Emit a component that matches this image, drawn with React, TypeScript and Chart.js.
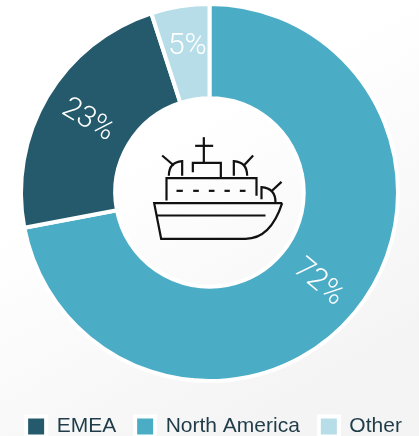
import React, { useEffect, useRef } from "react";
import { Chart, registerables } from "chart.js";

Chart.register(...registerables);

const categories = ["North America", "EMEA", "Other"];
const shares = [72, 23, 5];
const colors = ["#4bacc6", "#245a6b", "#b7dde8"];

// Ship icon, expressed in 3x-zoom units relative to an origin at the doughnut centre
const Z = (v: number) => v / 3;
const OX = -79;
const OY = -72;

function drawShip(ctx: CanvasRenderingContext2D, cx: number, cy: number) {
  ctx.save();
  ctx.translate(cx + OX, cy + OY);
  ctx.strokeStyle = "#111";
  ctx.lineWidth = 2.2;
  ctx.lineCap = "butt";
  ctx.lineJoin = "miter";
  const poly = (pts: number[][]) => {
    ctx.beginPath();
    pts.forEach((p, i) => (i ? ctx.lineTo(Z(p[0]), Z(p[1])) : ctx.moveTo(Z(p[0]), Z(p[1]))));
    ctx.stroke();
  };
  poly([[220, 50], [220, 125]]);
  poly([[194, 76], [248, 76]]);
  poly([[187, 155], [187, 127], [271, 127], [271, 172]]);
  poly([[108, 240], [108, 173], [378, 173], [378, 226]]);
  [[138, 157], [188, 205], [235, 252], [282, 298], [328, 345]].forEach(([a, b]) => poly([[a, 211], [b, 211]]));
  // left radar
  ctx.beginPath();
  ctx.moveTo(Z(155), Z(166));
  ctx.lineTo(Z(155), Z(122));
  ctx.quadraticCurveTo(Z(115), Z(125), Z(115), Z(166));
  ctx.stroke();
  poly([[95, 105], [130, 135]]);
  // right radar
  ctx.beginPath();
  ctx.moveTo(Z(310), Z(166));
  ctx.lineTo(Z(310), Z(122));
  ctx.quadraticCurveTo(Z(350), Z(125), Z(350), Z(166));
  ctx.stroke();
  poly([[368, 105], [340, 135]]);
  // stern radar
  ctx.beginPath();
  ctx.moveTo(Z(393), Z(236));
  ctx.lineTo(Z(393), Z(200));
  ctx.quadraticCurveTo(Z(435), Z(203), Z(435), Z(246));
  ctx.stroke();
  poly([[453, 184], [422, 213]]);
  // hull
  ctx.beginPath();
  ctx.moveTo(Z(455), Z(248));
  ctx.lineTo(Z(71), Z(248));
  ctx.lineTo(Z(92), Z(355));
  ctx.lineTo(Z(345), Z(355));
  ctx.quadraticCurveTo(Z(420), Z(355), Z(455), Z(248));
  ctx.stroke();
  poly([[78, 285], [405, 285]]);
  ctx.restore();
}

const overlay = {
  id: "overlay",
  afterLayout(chart: any) {
    chart.legend.top += 14;
    chart.legend.bottom += 14;
    chart.legend.left += 4.5;
    chart.legend.right += 4.5;
  },
  afterDatasetsDraw(chart: any) {
    const ctx = chart.ctx as CanvasRenderingContext2D;
    const arcs = chart.getDatasetMeta(0).data;
    arcs.forEach((arc: any, i: number) => {
      const p = arc.getCenterPoint();
      // the arc's mid angle, measured from 3 o'clock, wrapped so that the text stays upright
      let rot = (arc.startAngle + arc.endAngle) / 2;
      while (rot > Math.PI / 2) rot -= Math.PI;
      while (rot < -Math.PI / 2) rot += Math.PI;
      ctx.save();
      ctx.translate(p.x, p.y - (i === 2 ? 6 : 0));
      ctx.rotate(i === 2 ? 0 : rot);
      ctx.fillStyle = "#fff";
      ctx.font = '300 30px Roboto, "Liberation Sans"';
      ctx.textAlign = "center";
      ctx.textBaseline = "middle";
      ctx.fillText(`${shares[i]}%`, 0, 0);
      ctx.restore();
    });
    drawShip(ctx, arcs[0].x, arcs[0].y);
  },
};

export default function App() {
  const ref = useRef<HTMLCanvasElement>(null);
  useEffect(() => {
    document.body.style.margin = "0";
    const chart = new Chart(ref.current!, {
      type: "doughnut",
      data: {
        labels: categories,
        datasets: [{
          data: shares,
          backgroundColor: colors,
          borderColor: "#ffffff",
          borderWidth: 4,
          hoverOffset: 0,
        }],
      },
      options: {
        animation: false,
        responsive: false,
        rotation: 0,
        cutout: "50%",
        layout: { padding: { top: 2, bottom: 3, left: 0, right: 0 } },
        plugins: {
          tooltip: { enabled: false },
          legend: {
            position: "bottom",
            labels: {
              font: { family: '"Liberation Sans"', size: 21 },
              color: "#1f3c48",
              boxWidth: 20,
              boxHeight: 20,
              padding: 19,
              sort: (a: any, b: any) => a.text.localeCompare(b.text),
            },
          },
        },
      },
      plugins: [overlay],
    });
    return () => chart.destroy();
  }, []);
  return (
    <div style={{ width: 419, height: 436, background: "linear-gradient(150deg,#ffffff 35%,#f4f4f4 85%)" }}>
      <canvas ref={ref} width={419} height={436} style={{ display: "block" }} />
    </div>
  );
}
